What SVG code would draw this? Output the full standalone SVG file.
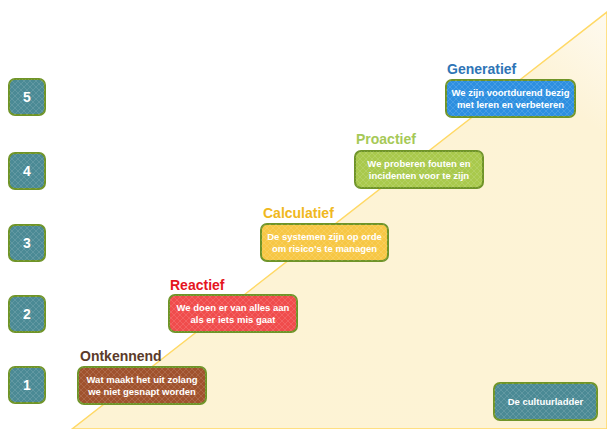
<svg xmlns="http://www.w3.org/2000/svg" width="607" height="429" viewBox="0 0 607 429">
<defs>
<linearGradient id="tri" x1="0" y1="1" x2="1" y2="0">
<stop offset="0" stop-color="#fdf3d4"/>
<stop offset="0.85" stop-color="#fdf3d6"/>
<stop offset="1" stop-color="#fefaf0"/>
</linearGradient>
<pattern id="tex" width="6" height="6" patternUnits="userSpaceOnUse">
<path d="M0 3 L3 0 L6 3 L3 6 Z" fill="none" stroke="#ffffff" stroke-opacity="0.12" stroke-width="1"/>
</pattern>
</defs>
<style>
.box{stroke:#6f9428;stroke-width:2}
.tx{fill:url(#tex)}
.num{font-family:"Liberation Sans",Arial,sans-serif;font-weight:bold;font-size:14px;fill:#ffffff;text-anchor:middle}
.lbl{font-family:"Liberation Sans",Arial,sans-serif;font-weight:bold;font-size:14px}
.bt{font-family:"Liberation Sans",Arial,sans-serif;font-weight:bold;font-size:9.5px;fill:#ffffff;text-anchor:middle}
</style>
<rect width="607" height="429" fill="#ffffff"/>
<polygon points="72,429 607,12 607,429" fill="url(#tri)" stroke="#ffd966" stroke-width="1.5"/>

<g id="n5"><rect class="box" x="9" y="79" width="36" height="36" rx="6" fill="#4b8a95"/><rect class="tx" x="9" y="79" width="36" height="36" rx="6"/><text class="num" x="27" y="102">5</text></g>
<g id="n4"><rect class="box" x="9" y="153" width="36" height="36" rx="6" fill="#4b8a95"/><rect class="tx" x="9" y="153" width="36" height="36" rx="6"/><text class="num" x="27" y="176">4</text></g>
<g id="n3"><rect class="box" x="9" y="225" width="36" height="36" rx="6" fill="#4b8a95"/><rect class="tx" x="9" y="225" width="36" height="36" rx="6"/><text class="num" x="27" y="248">3</text></g>
<g id="n2"><rect class="box" x="9" y="296" width="36" height="36" rx="6" fill="#4b8a95"/><rect class="tx" x="9" y="296" width="36" height="36" rx="6"/><text class="num" x="27" y="319">2</text></g>
<g id="n1"><rect class="box" x="9" y="367" width="36" height="36" rx="6" fill="#4b8a95"/><rect class="tx" x="9" y="367" width="36" height="36" rx="6"/><text class="num" x="27" y="390">1</text></g>

<g id="ontkennend">
<text class="lbl" x="80" y="361" fill="#5b3a29">Ontkennend</text>
<rect class="box" x="78" y="367" width="128" height="37" rx="6" fill="#a0522d"/><rect class="tx" x="78" y="367" width="128" height="37" rx="6"/>
<text class="bt" x="142" y="383">Wat maakt het uit zolang</text>
<text class="bt" x="142" y="395">we niet gesnapt worden</text>
</g>
<g id="reactief">
<text class="lbl" x="170" y="290" fill="#e5151e">Reactief</text>
<rect class="box" x="169" y="295" width="128" height="37" rx="6" fill="#f04c4c"/><rect class="tx" x="169" y="295" width="128" height="37" rx="6"/>
<text class="bt" x="233" y="311">We doen er van alles aan</text>
<text class="bt" x="233" y="323">als er iets mis gaat</text>
</g>
<g id="calculatief">
<text class="lbl" x="263" y="218" fill="#f0b820">Calculatief</text>
<rect class="box" x="261" y="224" width="127" height="37" rx="6" fill="#f7c744"/><rect class="tx" x="261" y="224" width="127" height="37" rx="6"/>
<text class="bt" x="324.5" y="240">De systemen zijn op orde</text>
<text class="bt" x="324.5" y="252">om risico's te managen</text>
</g>
<g id="proactief">
<text class="lbl" x="356" y="144" fill="#a6c957">Proactief</text>
<rect class="box" x="355" y="151" width="128" height="37" rx="6" fill="#a9c94c"/><rect class="tx" x="355" y="151" width="128" height="37" rx="6"/>
<text class="bt" x="419" y="167">We proberen fouten en</text>
<text class="bt" x="419" y="179">incidenten voor te zijn</text>
</g>
<g id="generatief">
<text class="lbl" x="447" y="74" fill="#2e75b6">Generatief</text>
<rect class="box" x="446" y="80" width="129" height="37" rx="6" fill="#2d8fe0"/><rect class="tx" x="446" y="80" width="129" height="37" rx="6"/>
<text class="bt" x="510.5" y="96">We zijn voortdurend bezig</text>
<text class="bt" x="510.5" y="108">met leren en verbeteren</text>
</g>
<g id="cultuurladder">
<rect class="box" x="494" y="383" width="103" height="37" rx="6" fill="#4b8a95"/><rect class="tx" x="494" y="383" width="103" height="37" rx="6"/>
<text class="bt" x="545.5" y="405">De cultuurladder</text>
</g>
<g id="connectors"></g>
</svg>
